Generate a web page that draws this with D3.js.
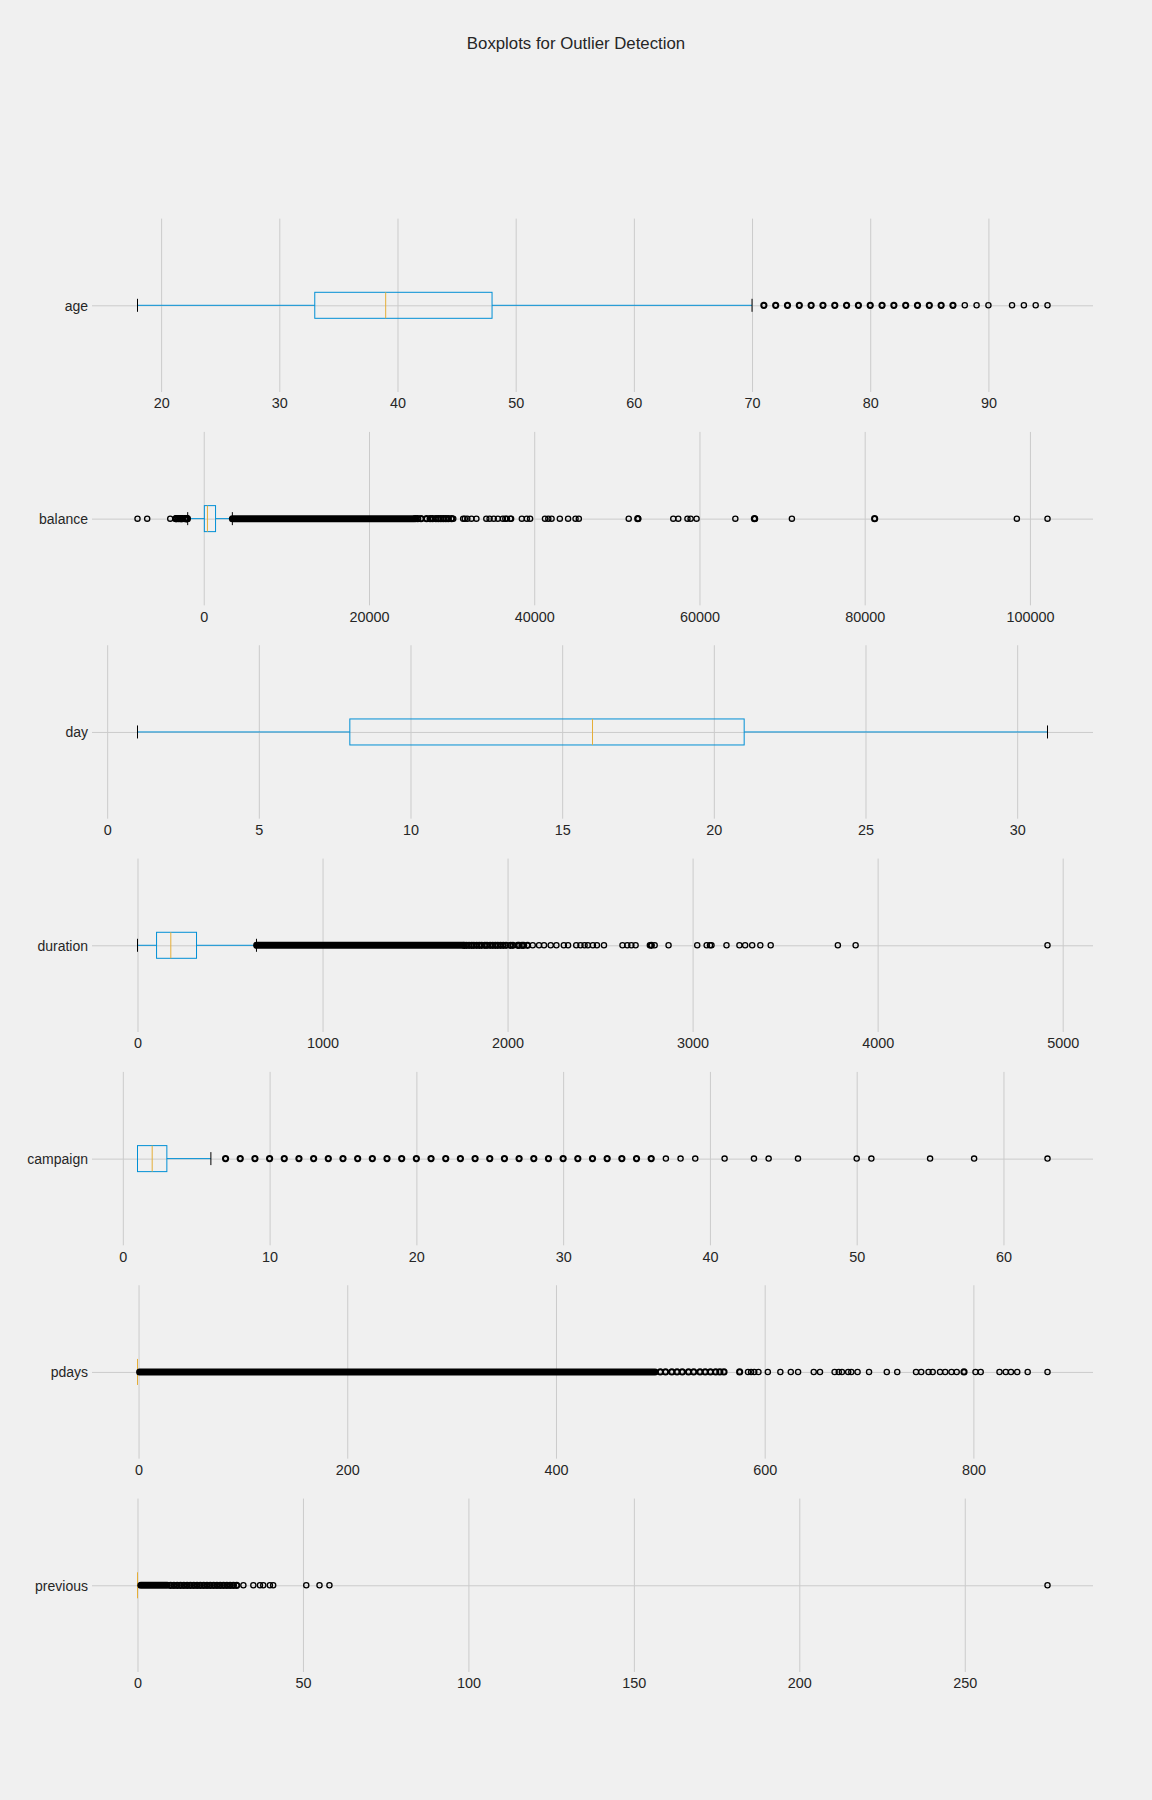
<!DOCTYPE html>
<html>
<head>
<meta charset="utf-8">
<script src="https://cdn.jsdelivr.net/npm/d3@7"></script>
<style>
  html, body { margin: 0; padding: 0; background: #f0f0f0; }
  svg { display: block; }
  text { font-family: "Liberation Sans", Arial, sans-serif; fill: #262626; }
</style>
</head>
<body>
<div id="chart"></div>
<script>
// ---------------- DATA ----------------
const categories = ["age", "balance", "day", "duration", "campaign", "pdays", "previous"];
const whiskerLow  = [18, -1944, 1, 0, 1, -1, 0];
const q1          = [33, 72, 8, 103, 1, -1, 0];
const median      = [39, 448, 16, 180, 2, -1, 0];
const q3          = [48, 1428, 21, 319, 3, -1, 0];
const whiskerHigh = [70, 3462, 31, 643, 6, -1, 0];

// tick labels
const ageTicks      = [20, 30, 40, 50, 60, 70, 80, 90];
const balanceTicks  = [0, 20000, 40000, 60000, 80000, 100000];
const dayTicks      = [0, 5, 10, 15, 20, 25, 30];
const durationTicks = [0, 1000, 2000, 3000, 4000, 5000];
const campaignTicks = [0, 10, 20, 30, 40, 50, 60];
const pdaysTicks    = [0, 200, 400, 600, 800];
const previousTicks = [0, 50, 100, 150, 200, 250];

// outliers (values with many overlapping points are listed as "heavy")
const ageOutliersHeavy = [71, 72, 73, 74, 75, 76, 77, 78, 79, 80, 81, 82, 83, 84, 85, 86, 87];
const ageOutliers = [88, 89, 90, 92, 93, 94, 95];
const balanceOutliersHeavy = [-3372, -3313, -3058, -2827, -2712, -2604, -2282, -2122, -2093, -2049, -1980,
  25600, 25900, 26300, 26965, 27400, 27700, 28100, 28400, 28700, 29000, 29300, 29600, 30000,
  52527, 66653, 81204];
const balanceOutliers = [-8019, -6847, -4057, 30200,
  31400, 31600, 31900, 32400, 33000,
  34200, 34600, 35100, 35600, 36200, 36500, 36700, 37100, 37200, 38500, 39100, 39500,
  41300, 41700, 42100, 43100, 44100, 45000, 45400,
  51439, 52587, 56831, 57435, 58544, 58932, 59649, 64343, 66721, 71188, 98417, 102127];
const balanceBands = [[3463, 25400]];
const dayOutliers = [];
const durationOutliersHeavy = [1766, 1778, 1792, 1806, 1818, 1833, 1847, 1860, 1877, 1889, 1906, 1920, 1934, 1947, 1962,
  1977, 1992, 2016, 2029, 2055, 2062, 2078, 2087, 2108, 2777];
const durationOutliers = [2136, 2170, 2197, 2233, 2264, 2304, 2327, 2371, 2394, 2416, 2434, 2461, 2483, 2521,
  2621, 2647, 2669, 2692, 2769, 2795, 2870, 3025, 3076, 3094, 3102, 3183,
  3253, 3284, 3322, 3366, 3422, 3785, 3881, 4918];
const durationBands = [[644, 1760]];
const campaignOutliersHeavy = [7, 8, 9, 10, 11, 12, 13, 14, 15, 16, 17, 18, 19, 20, 21, 22, 23, 24, 25, 26, 27, 28, 29, 30, 31, 32, 33, 34, 35, 36];
const campaignOutliers = [37, 38, 39, 41, 43, 44, 46, 50, 51, 55, 58, 63];
const pdaysOutliersHeavy = [500, 505, 511, 516, 521, 527, 532, 538, 543, 548, 553, 557, 561, 576, 791];
const pdaysOutliers = [584, 587, 590, 594, 603, 615, 625, 632, 647, 653, 667, 671, 674, 680, 683, 689, 700,
  717, 727, 745, 750, 757, 761, 768, 773, 779, 784, 802, 807, 825, 831, 836, 842, 852, 871];
const pdaysBands = [[1, 495]];
const previousOutliersHeavy = [10, 11, 12, 13, 14, 15, 16, 17, 18, 19, 20, 21, 22, 23, 24, 25, 26, 27, 28, 29, 30];
const previousOutliers = [32, 35, 37, 38, 40, 41, 51, 55, 58, 275];
const previousBands = [[1, 9]];

const tickSets = [ageTicks, balanceTicks, dayTicks, durationTicks, campaignTicks, pdaysTicks, previousTicks];
const outlierSets = [ageOutliers, balanceOutliers, dayOutliers, durationOutliers, campaignOutliers, pdaysOutliers, previousOutliers];
const heavySets = [ageOutliersHeavy, balanceOutliersHeavy, [], durationOutliersHeavy, campaignOutliersHeavy, pdaysOutliersHeavy, previousOutliersHeavy];
const bandSets = [[], balanceBands, [], durationBands, [], pdaysBands, previousBands];

// ---------------- LAYOUT ----------------
const W = 1152, H = 1800;
const left = 92, right = 1093;
const firstCenter = 305.3, spacing = 213.33, axH = 173.4;
const BLUE = "#008fd5", ORANGE = "#e5ae38", GRID = "#cbcbcb";
const R = 2.6;

const svg = d3.select("#chart").append("svg").attr("width", W).attr("height", H);
svg.append("rect").attr("width", W).attr("height", H).attr("fill", "#f0f0f0");

svg.append("text").attr("x", 576).attr("y", 48.6).attr("text-anchor", "middle")
  .style("font-size", "16.8px").text("Boxplots for Outlier Detection");

categories.forEach((cat, i) => {
  const center = firstCenter + i * spacing;
  const top = center - axH / 2;
  const y = d3.scaleLinear().domain([1.5, 0.5]).range([top, top + axH]);

  const all = [whiskerLow[i], whiskerHigh[i], ...outlierSets[i], ...heavySets[i], ...bandSets[i].flat()];
  const [mn, mx] = d3.extent(all);
  const pad = (mx - mn) * 0.05;
  const x = d3.scaleLinear().domain([mn - pad, mx + pad]).range([left, right]);

  const g = svg.append("g");

  // vertical grid + tick labels
  const gx = g.append("g").attr("transform", `translate(0,${top + axH})`)
    .call(d3.axisBottom(x).tickValues(tickSets[i]).tickSize(-axH).tickFormat(d3.format("d")).tickPadding(0));
  gx.select(".domain").remove();
  gx.selectAll(".tick line").attr("stroke", GRID).attr("stroke-width", 1);
  gx.selectAll(".tick text").attr("y", 0).attr("dy", 0)
    .attr("transform", `translate(0,${center + 103 - (top + axH)})`)
    .style("font-size", "14.4px").attr("fill", "#262626");

  // horizontal grid + category label
  const gy = g.append("g").attr("transform", `translate(${left},0)`)
    .call(d3.axisLeft(y).tickValues([1]).tickSize(-(right - left)).tickFormat(() => cat).tickPadding(4));
  gy.select(".domain").remove();
  gy.selectAll(".tick line").attr("stroke", GRID).attr("stroke-width", 1);
  gy.selectAll(".tick text").style("font-size", "14px").attr("fill", "#262626").attr("x", -4).attr("dy", "0.35em");

  const yc = y(1);
  const boxHalf = (y(1) - y(1.075));
  const capHalf = boxHalf / 2;

  // whiskers
  g.append("line").attr("x1", x(whiskerLow[i])).attr("x2", x(q1[i])).attr("y1", yc).attr("y2", yc)
    .attr("stroke", BLUE).attr("stroke-width", 1);
  g.append("line").attr("x1", x(q3[i])).attr("x2", x(whiskerHigh[i])).attr("y1", yc).attr("y2", yc)
    .attr("stroke", BLUE).attr("stroke-width", 1);
  // caps
  [whiskerLow[i], whiskerHigh[i]].forEach(v => {
    g.append("line").attr("x1", x(v)).attr("x2", x(v)).attr("y1", yc - capHalf).attr("y2", yc + capHalf)
      .attr("stroke", "#000").attr("stroke-width", 1);
  });
  // box
  g.append("rect").attr("x", x(q1[i])).attr("y", yc - boxHalf)
    .attr("width", Math.max(0, x(q3[i]) - x(q1[i]))).attr("height", 2 * boxHalf)
    .attr("fill", "none").attr("stroke", BLUE).attr("stroke-width", 1);
  // median
  g.append("line").attr("x1", x(median[i])).attr("x2", x(median[i])).attr("y1", yc - boxHalf).attr("y2", yc + boxHalf)
    .attr("stroke", ORANGE).attr("stroke-width", 1);

  // dense flier bands
  g.selectAll(".band").data(bandSets[i]).enter().append("line")
    .attr("x1", d => x(d[0])).attr("x2", d => x(d[1])).attr("y1", yc).attr("y2", yc)
    .attr("stroke", "#000").attr("stroke-width", 7).attr("stroke-linecap", "round");

  // fliers
  g.selectAll(".flier").data(outlierSets[i]).enter().append("circle")
    .attr("cx", d => x(d)).attr("cy", yc).attr("r", R)
    .attr("fill", "none").attr("stroke", "#000").attr("stroke-width", 1.3);
  g.selectAll(".hflier").data(heavySets[i]).enter().append("circle")
    .attr("cx", d => x(d)).attr("cy", yc).attr("r", R)
    .attr("fill", "none").attr("stroke", "#000").attr("stroke-width", 2);
});
</script>
</body>
</html>
